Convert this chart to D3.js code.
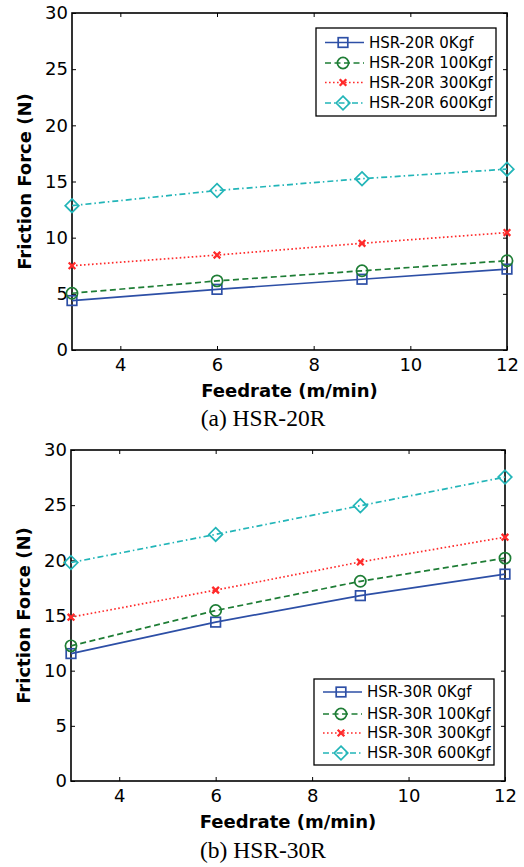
<!DOCTYPE html>
<html>
<head>
<meta charset="utf-8">
<script src="https://cdn.jsdelivr.net/npm/d3@7"></script>
<style>
  body { margin: 0; background: #fff; }
  svg { display: block; }
  .tick text { font-family: "DejaVu Sans", sans-serif; font-size: 18px; fill: #000; }
  .axis-title { font-family: "DejaVu Sans", sans-serif; font-size: 18px; font-weight: bold; }
  .caption { font-family: "Liberation Serif", "Times New Roman", serif; font-size: 23.5px; }
  .legend text { font-family: "DejaVu Sans", sans-serif; font-size: 15px; }
</style>
</head>
<body>
<svg id="chart" width="524" height="867"></svg>
<script>
const FEEDRATES = [3, 6, 9, 12];
const X_TICKS = [4, 6, 8, 10, 12];
const Y_TICKS = [0, 5, 10, 15, 20, 25, 30];
const LOADS = ['0Kgf', '100Kgf', '300Kgf', '600Kgf'];

// HSR-20R, friction force (N)
const HSR20_0 = [4.4, 5.4, 6.3, 7.2];
const HSR20_100 = [5.05, 6.15, 7.05, 7.95];
const HSR20_300 = [7.5, 8.45, 9.5, 10.45];
const HSR20_600 = [12.85, 14.2, 15.25, 16.1];

// HSR-30R, friction force (N)
const HSR30_0 = [11.55, 14.4, 16.8, 18.75];
const HSR30_100 = [12.25, 15.45, 18.1, 20.2];
const HSR30_300 = [14.85, 17.3, 19.85, 22.1];
const HSR30_600 = [19.8, 22.35, 24.95, 27.55];

const STYLES = [
	{ color: '#2d4fa6', dash: null, marker: 'square' },
	{ color: '#1e7d35', dash: '6,3.5', marker: 'circle' },
	{ color: '#ff2a2a', dash: '1.6,2.4', marker: 'x' },
	{ color: '#22b5b8', dash: '6,3,1.5,3', marker: 'diamond' }
];

const svg = d3.select('#chart');

function drawMarker(g, type, color) {
	if (type === 'square') {
		g.append('rect').attr('x', -4.8).attr('y', -4.8).attr('width', 9.6).attr('height', 9.6)
			.attr('fill', 'none').attr('stroke', color).attr('stroke-width', 1.7);
	} else if (type === 'circle') {
		g.append('circle').attr('r', 5.6)
			.attr('fill', 'none').attr('stroke', color).attr('stroke-width', 1.7);
	} else if (type === 'diamond') {
		g.append('path').attr('d', 'M0,-6.8L6.8,0L0,6.8L-6.8,0Z')
			.attr('fill', 'none').attr('stroke', color).attr('stroke-width', 1.7);
	} else {
		g.append('path').attr('d', 'M-3.3,-3.3L3.3,3.3M-3.3,3.3L3.3,-3.3')
			.attr('stroke', color).attr('stroke-width', 2.3);
	}
}

function drawPanel(opts) {
	const m = opts.box;
	const w = m.right - m.left;
	const h = m.bottom - m.top;
	const x = d3.scaleLinear().domain([3, 12]).range([0, w]);
	const y = d3.scaleLinear().domain([0, 30]).range([h, 0]);

	const g = svg.append('g').attr('transform', 'translate(' + m.left + ',' + m.top + ')');

	// axes, ticks point inward on all four sides
	g.append('g').attr('transform', 'translate(0,' + h + ')')
		.call(d3.axisBottom(x).tickValues(X_TICKS).tickSizeInner(-4).tickSizeOuter(0).tickPadding(8));
	g.append('g')
		.call(d3.axisLeft(y).tickValues(Y_TICKS).tickSizeInner(-4).tickSizeOuter(0).tickPadding(4));
	g.append('g')
		.call(d3.axisTop(x).tickValues(X_TICKS).tickSizeInner(-4).tickSizeOuter(0).tickFormat(''));
	g.append('g').attr('transform', 'translate(' + w + ',0)')
		.call(d3.axisRight(y).tickValues(Y_TICKS).tickSizeInner(-4).tickSizeOuter(0).tickFormat(''));
	g.selectAll('.tick line').attr('stroke', '#000').attr('stroke-width', 1);
	g.selectAll('.domain').remove();

	g.append('rect').attr('width', w).attr('height', h)
		.attr('fill', 'none').attr('stroke', '#000').attr('stroke-width', 1.6);

	const line = d3.line().x((d, i) => x(FEEDRATES[i])).y(d => y(d));

	opts.series.forEach((vals, k) => {
		const st = STYLES[k];
		g.append('path')
			.attr('d', line(vals))
			.attr('fill', 'none')
			.attr('stroke', st.color)
			.attr('stroke-width', 1.7)
			.attr('stroke-dasharray', st.dash);
		vals.forEach((v, i) => {
			const mk = g.append('g').attr('transform', 'translate(' + x(FEEDRATES[i]) + ',' + y(v) + ')');
			drawMarker(mk, st.marker, st.color);
		});
	});

	// axis titles
	g.append('text').attr('class', 'axis-title')
		.attr('text-anchor', 'middle')
		.attr('x', w / 2).attr('y', h + 47)
		.text('Feedrate (m/min)');
	g.append('text').attr('class', 'axis-title')
		.attr('text-anchor', 'middle')
		.attr('transform', 'translate(' + (-41) + ',' + (h / 2) + ') rotate(-90)')
		.text('Friction Force (N)');

	svg.append('text').attr('class', 'caption')
		.attr('text-anchor', 'middle')
		.attr('x', 263).attr('y', opts.captionY)
		.text(opts.caption);

	// legend
	const L = opts.legend;
	const lg = svg.append('g').attr('class', 'legend')
		.attr('transform', 'translate(' + L.x + ',' + L.y + ')');
	lg.append('rect').attr('width', L.w).attr('height', L.h)
		.attr('fill', '#fff').attr('stroke', '#000').attr('stroke-width', 1.3);
	LOADS.forEach((load, k) => {
		const st = STYLES[k];
		const ry = L.rowY[k];
		lg.append('line').attr('x1', 9).attr('x2', 48).attr('y1', ry).attr('y2', ry)
			.attr('stroke', st.color).attr('stroke-width', 1.7)
			.attr('stroke-dasharray', st.dash);
		drawMarker(lg.append('g').attr('transform', 'translate(27,' + ry + ')'), st.marker, st.color);
		lg.append('text').attr('x', 53).attr('y', ry).attr('dy', '0.36em')
			.text(opts.model + ' ' + load);
	});
}

drawPanel({
	box: { left: 72, right: 507, top: 13, bottom: 350 },
	series: [HSR20_0, HSR20_100, HSR20_300, HSR20_600],
	model: 'HSR-20R',
	caption: '(a) HSR-20R',
	captionY: 426,
	legend: { x: 316, y: 28, w: 180, h: 88, rowY: [14.5, 35, 54.5, 75] }
});

drawPanel({
	box: { left: 71, right: 505, top: 450, bottom: 781 },
	series: [HSR30_0, HSR30_100, HSR30_300, HSR30_600],
	model: 'HSR-30R',
	caption: '(b) HSR-30R',
	captionY: 858,
	legend: { x: 314, y: 679, w: 180, h: 86, rowY: [13, 35, 54, 74] }
});
</script>
</body>
</html>
